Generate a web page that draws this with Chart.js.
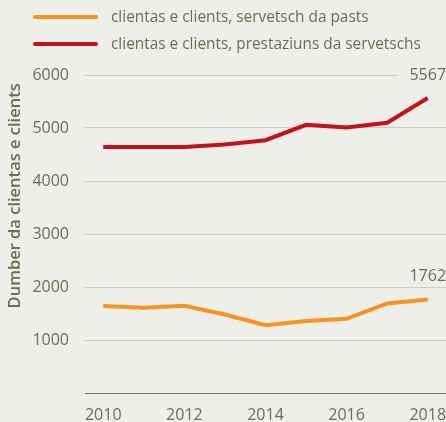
<!DOCTYPE html>
<html>
<head>
<meta charset="utf-8">
<script src="https://cdn.jsdelivr.net/npm/chart.js@4"></script>
<style>
html,body{margin:0;padding:0;background:#efefe9;}
#wrap{width:446px;height:422px;position:relative;}
</style>
</head>
<body>
<div id="wrap"><canvas id="c" width="446" height="422"></canvas></div>
<script>
const years = [2010, 2011, 2012, 2013, 2014, 2015, 2016, 2017, 2018];
const pastsClients = [1640, 1610, 1645, 1480, 1280, 1360, 1400, 1690, 1762];
const servetschsClients = [4640, 4640, 4640, 4690, 4770, 5060, 5010, 5100, 5567];
const seriesLabels = ['clientas e clients, servetsch da pasts', 'clientas e clients, prestaziuns da servetschs'];
const yTicks = [0, 1000, 2000, 3000, 4000, 5000, 6000];
const xTicks = [2010, 2012, 2014, 2016, 2018];
const axisTitle = 'Dumber da clientas e clients';

const TEXT = '#6f6b55';
const BG = '#efefe9';
const FONT = "'Open Sans', sans-serif";

const customLegend = {
  id: 'customLegend',
  afterDraw(chart) {
    const ctx = chart.ctx;
    ctx.save();
    chart.data.datasets.forEach((ds, i) => {
      const y = 17 + i * 27;
      ctx.strokeStyle = ds.borderColor;
      ctx.lineWidth = 4;
      ctx.lineCap = 'round';
      ctx.beginPath();
      ctx.moveTo(35, y);
      ctx.lineTo(96, y);
      ctx.stroke();
      ctx.fillStyle = TEXT;
      ctx.font = '15.4px ' + FONT;
      ctx.textBaseline = 'middle';
      ctx.textAlign = 'left';
      ctx.fillText(ds.label, 111, y + 1);
    });
    ctx.restore();
  }
};

const lastLabels = {
  id: 'lastLabels',
  afterDatasetsDraw(chart) {
    const ctx = chart.ctx;
    ctx.save();
    ctx.font = '16px ' + FONT;
    ctx.textAlign = 'center';
    ctx.textBaseline = 'middle';
    chart.data.datasets.forEach((ds, i) => {
      const meta = chart.getDatasetMeta(i);
      const n = ds.data.length - 1;
      const pt = meta.data[n];
      const txt = String(ds.data[n].y);
      const w = ctx.measureText(txt).width;
      const cx = pt.x;
      const cy = pt.y - 23;
      ctx.fillStyle = BG;
      ctx.fillRect(cx - w / 2 - 12, cy - 8, w + 40, 16);
      ctx.fillStyle = TEXT;
      ctx.fillText(txt, cx, cy);
    });
    ctx.restore();
  }
};

const bgPlugin = {
  id: 'bg',
  beforeDraw(chart) {
    const ctx = chart.ctx;
    ctx.save();
    ctx.fillStyle = BG;
    ctx.fillRect(0, 0, chart.width, chart.height);
    ctx.restore();
  }
};

new Chart(document.getElementById('c'), {
  type: 'line',
  data: {
    datasets: [
      {
        label: seriesLabels[0],
        data: years.map((y, i) => ({ x: y, y: pastsClients[i] })),
        borderColor: '#f7931e',
        backgroundColor: '#f7931e',
        borderWidth: 4,
        pointRadius: 0,
        tension: 0
      },
      {
        label: seriesLabels[1],
        data: years.map((y, i) => ({ x: y, y: servetschsClients[i] })),
        borderColor: '#c3111f',
        backgroundColor: '#c3111f',
        borderWidth: 4,
        pointRadius: 0,
        tension: 0
      }
    ]
  },
  options: {
    responsive: false,
    animation: false,
    devicePixelRatio: 1,
    layout: { padding: { top: 75, right: 0, bottom: 0, left: 0 } },
    plugins: {
      legend: { display: false },
      tooltip: { enabled: false }
    },
    scales: {
      x: {
        type: 'linear',
        min: 2009.55,
        max: 2018.45,
        afterBuildTicks: s => { s.ticks = xTicks.map(v => ({ value: v })); },
        afterFit: s => { s.height = 29; s.paddingLeft = 0; s.paddingRight = 0; },
        grid: { display: false, drawTicks: false },
        border: { display: true, color: '#7a765f', width: 1 },
        ticks: {
          color: TEXT,
          font: { family: FONT, size: 16 },
          padding: 13,
          maxRotation: 0,
          autoSkip: false,
          callback: v => String(v)
        }
      },
      y: {
        min: 0,
        max: 6000,
        afterBuildTicks: s => { s.ticks = yTicks.map(v => ({ value: v })); },
        afterFit: s => { s.width = 85; s.paddingBottom = 0; },
        grid: {
          drawTicks: false,
          color: c => (c.tick && c.tick.value === 0) ? '#7a765f' : '#d0cfbf',
          lineWidth: 1
        },
        border: { display: false },
        ticks: {
          color: TEXT,
          font: { family: FONT, size: 16 },
          padding: 16,
          callback: v => v === 0 ? '' : String(v)
        },
        title: {
          display: true,
          text: axisTitle + '\u2002',
          align: 'end',
          color: TEXT,
          font: { family: FONT, size: 16.5, weight: '600' },
          padding: { top: 5, bottom: 0 }
        }
      }
    }
  },
  plugins: [bgPlugin, customLegend, lastLabels]
});
</script>
</body>
</html>
